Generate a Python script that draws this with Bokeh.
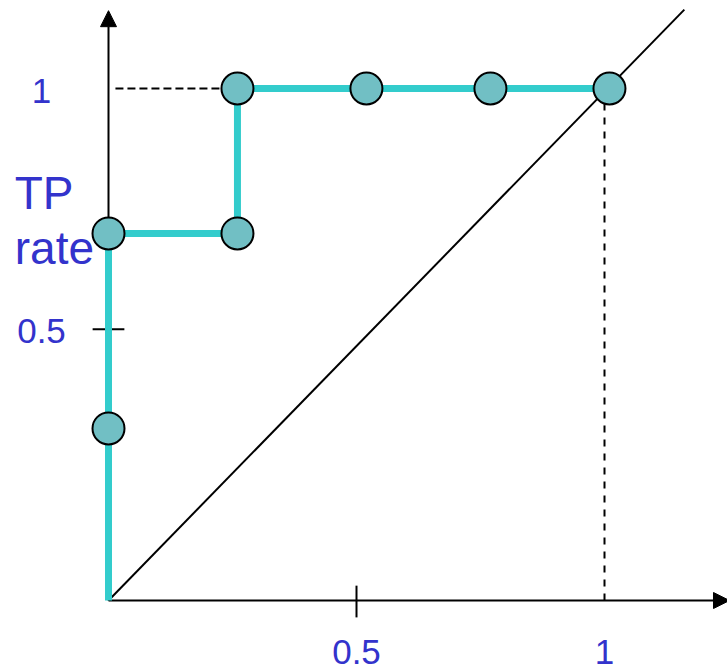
from bokeh.plotting import figure
from bokeh.models import Arrow, NormalHead
from bokeh.core.properties import value
from bokeh.embed import file_html
from bokeh.resources import INLINE

# ROC curve points (FP rate, TP rate)
fp_rate = [0.0, 0.0, 0.0, 0.26, 0.26, 0.52, 0.77, 1.01]
tp_rate = [0.0, 0.336, 0.717, 0.717, 1.0, 1.0, 1.0, 1.0]

# tick values and labels
x_ticks = [0.5, 1.0]
x_tick_labels = ["0.5", "1"]
y_ticks = [0.53, 1.0]
y_tick_labels = ["0.5", "1"]

W, H = 727, 669
p = figure(width=W, height=H, output_backend="svg", toolbar_location=None,
           x_range=(-108 / 496, (727 - 108) / 496), y_range=(-69 / 512, 600 / 512),
           min_border=0, outline_line_color=None)
p.axis.visible = False
p.grid.visible = False
p.background_fill_color = "white"
p.border_fill_color = "white"

TXT = "#3333CC"
FONT = value("Liberation Sans")

# axes with arrows (drawn beneath the curve)
p.add_layout(Arrow(end=NormalHead(size=16, fill_color="black", line_color="black"),
                   x_start=0, y_start=0, x_end=1.252, y_end=0,
                   line_color="black", line_width=2, level="underlay"))
p.add_layout(Arrow(end=NormalHead(size=16, fill_color="black", line_color="black"),
                   x_start=0, y_start=0, x_end=0, y_end=1.152,
                   line_color="black", line_width=2, level="underlay"))

# tick marks at 0.5 only
p.segment(x0=[x_ticks[0]], y0=[0.029], x1=[x_ticks[0]], y1=[-0.033], line_color="black", line_width=2)
p.segment(x0=[-0.032], y0=[y_ticks[0]], x1=[0.032], y1=[y_ticks[0]], line_color="black", line_width=2)

# diagonal
p.line([0, 1.161], [0, 1.154], line_color="black", line_width=2)

# dashed guides
p.line([0.014, 0.23], [1.0, 1.0], line_color="black", line_width=2, line_dash="8 4")
p.line([1.0, 1.0], [0.0, 0.97], line_color="black", line_width=2, line_dash="7 7")

# ROC curve
p.line(fp_rate, tp_rate, line_color="#33CCCC", line_width=7)
p.scatter(fp_rate[1:], tp_rate[1:], size=32, fill_color="#71BFC4",
          line_color="black", line_width=2)

# tick labels
p.text(x=[0] * len(y_ticks), y=y_ticks, text=y_tick_labels, x_offset=-67, y_offset=2,
       text_align="center", text_baseline="middle", text_font=FONT,
       text_font_size="35px", text_color=TXT)
p.text(x=x_ticks, y=[0] * len(x_ticks), text=x_tick_labels, x_offset=0, y_offset=51,
       text_align="center", text_baseline="middle", text_font=FONT,
       text_font_size="35px", text_color=TXT)

# axis title
p.text(x=[-0.189], y=[(600 - 220) / 512], text=["TP\nrate"],
       text_align="left", text_baseline="middle", text_font=FONT,
       text_font_size="46px", text_color=TXT, text_line_height=1.05)

open("out.html", "w").write(file_html(p, INLINE))
